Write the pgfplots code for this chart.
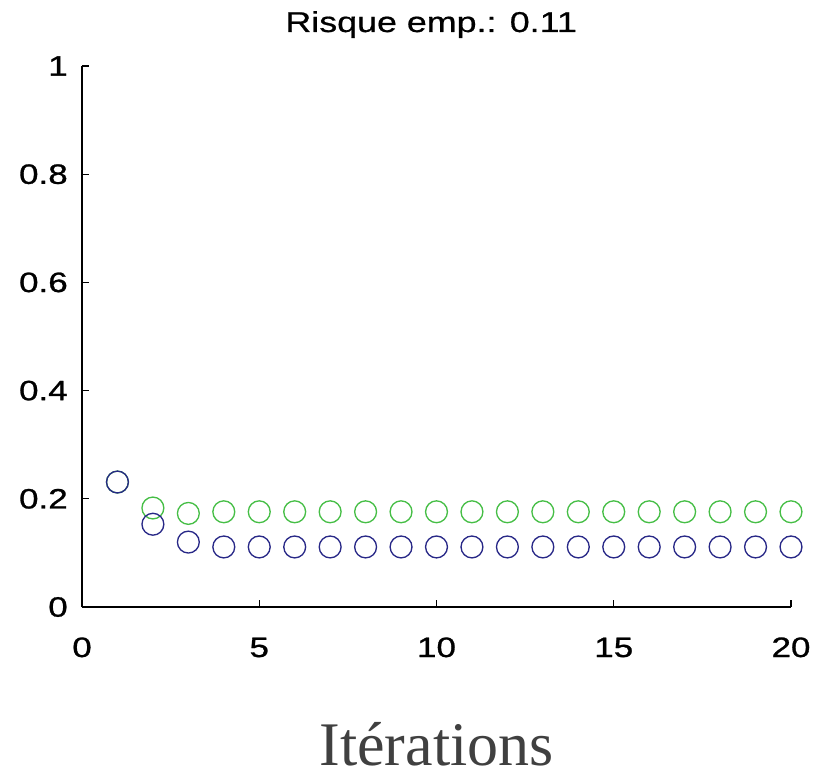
\documentclass[border=0pt]{standalone}
\usepackage{pgfplots}
\pgfplotsset{compat=1.18}
\usepackage{fontspec}
\setmainfont{Liberation Sans}
\newfontfamily\matlabfont[FakeStretch=1.25,FakeBold=1]{Liberation Sans}
\newfontfamily\titlefont[FakeStretch=1.25,FakeBold=0.6]{Liberation Sans}
\newfontfamily\serifbig{Liberation Serif}
\definecolor{mgreen}{RGB}{70,190,70}
\definecolor{mblue}{RGB}{40,40,135}
\definecolor{lblgray}{RGB}{64,64,64}
\begin{document}
\begin{tikzpicture}[x=0.75pt,y=0.75pt]
\begin{axis}[
  at={(0,0)}, anchor=south west,
  scale only axis,
  width=531.75pt, height=405.75pt,
  xmin=0, xmax=20, ymin=0, ymax=1,
  axis x line*=bottom, axis y line*=left,
  axis line style={-, line width=0.9pt, black},
  tick style={line width=0.9pt, black},
  tick align=inside,
  major tick length=5.5pt,
  xtick={0,5,10,15,20},
  ytick={0,0.2,0.4,0.6,0.8,1},
  /pgf/number format/assume math mode=true,
  ticklabel style={font=\matlabfont\fontsize{21}{24}\selectfont},
  xticklabel style={anchor=base, inner sep=0pt, yshift=-37.5pt},
  yticklabel style={anchor=east, inner sep=0pt, xshift=-10.5pt},
  title={\titlefont\fontsize{21.5}{24}\selectfont Risque emp.: 0.11},
  title style={at={(0.5,1)}, anchor=base, inner sep=0pt, yshift=19.5pt, xshift=-4pt},
  xlabel={\serifbig\fontsize{46.5}{50}\selectfont Itérations},
  xlabel style={at={(0.5,0)}, anchor=base, inner sep=0pt, yshift=-119pt, color=lblgray},
]
\addplot[only marks, mark=o, mark size=8.2pt, color=mgreen, mark options={line width=1pt}] coordinates {
 (1,0.231) (2,0.183) (3,0.173) (4,0.176) (5,0.176) (6,0.176) (7,0.176) (8,0.176) (9,0.176) (10,0.176)
 (11,0.176) (12,0.176) (13,0.176) (14,0.176) (15,0.176) (16,0.176) (17,0.176) (18,0.176) (19,0.176) (20,0.176)
};
\addplot[only marks, mark=o, mark size=8.2pt, color=mblue, mark options={line width=1pt}] coordinates {
 (1,0.231) (2,0.153) (3,0.120) (4,0.111) (5,0.111) (6,0.111) (7,0.111) (8,0.111) (9,0.111) (10,0.111)
 (11,0.111) (12,0.111) (13,0.111) (14,0.111) (15,0.111) (16,0.111) (17,0.111) (18,0.111) (19,0.111) (20,0.111)
};
\end{axis}
\path (-82,-172) rectangle (739,607);
\end{tikzpicture}
\end{document}
